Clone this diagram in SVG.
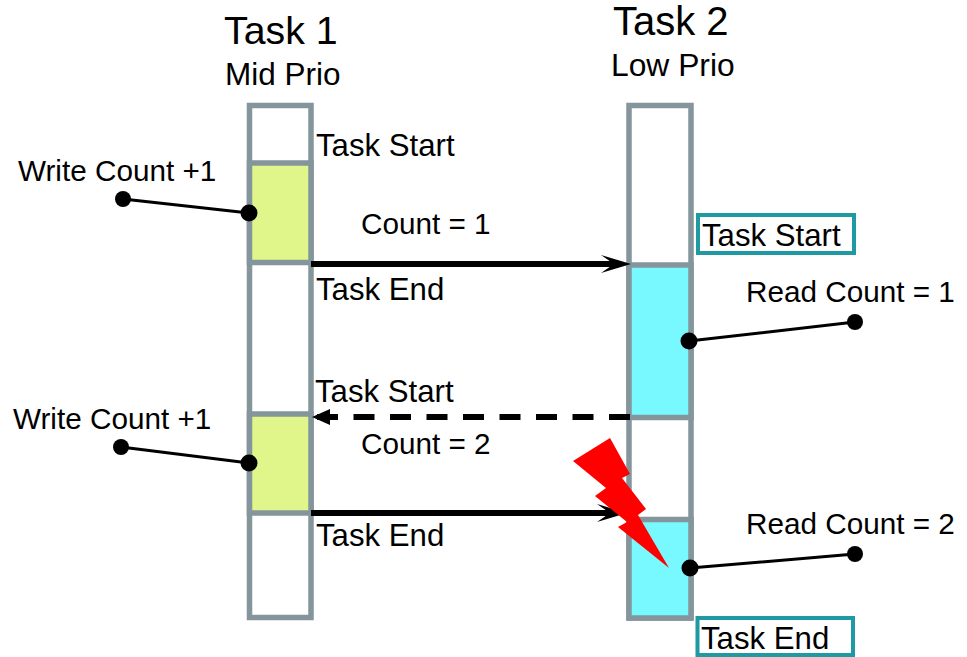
<svg xmlns="http://www.w3.org/2000/svg" width="967" height="657" viewBox="0 0 967 657">
<style>
text{font-family:"Liberation Sans",Arial,sans-serif;fill:#000;font-size:29.700px}
.big{font-size:39.300px}
.mid{font-size:31.500px}
.t{font-size:31.200px}
.box{fill:#fff;stroke:#85959c;stroke-width:5.500}
.y{fill:#e0f58a;stroke:#85959c;stroke-width:5.500}
.c{fill:#78f8ff;stroke:#85959c;stroke-width:5.500}
.lead{stroke:#000;stroke-width:3;fill:none}
.flow{stroke:#000;stroke-width:6;fill:none}
.tag{fill:#fff;stroke:#1f9aa3;stroke-width:4}
</style>
<defs>
<marker id="a" markerUnits="userSpaceOnUse" markerWidth="34" markerHeight="22" refX="15" refY="11" orient="auto"><path d="M1 2 L31 11 L1 20 L14 11 Z" fill="#000"/></marker>
<marker id="b" markerUnits="userSpaceOnUse" markerWidth="22" markerHeight="22" refX="20" refY="11" orient="auto"><path d="M2 3 L20 11 L2 19 Z" fill="#000"/></marker>
</defs>
<g id="task1">
<rect class="box" x="249.500" y="105.500" width="61.500" height="512"/>
<rect class="y" x="249.500" y="163" width="61.500" height="99.500"/>
<rect class="y" x="249.500" y="414" width="61.500" height="99"/>
<text class="big" x="224" y="44">Task 1</text>
<text class="mid" x="225" y="85">Mid Prio</text>
<text class="t" x="316" y="156">Task Start</text>
<text class="t" x="316" y="300">Task End</text>
<text class="t" x="315" y="402">Task Start</text>
<text class="t" x="316" y="546">Task End</text>
</g>
<g id="task2">
<rect class="box" x="629" y="105.500" width="62" height="512.500"/>
<rect class="c" x="629" y="265" width="62" height="152.500"/>
<rect class="c" x="629" y="519.500" width="62" height="98.500"/>
<text class="big" x="613" y="35" style="font-size:40px">Task 2</text>
<text class="mid" x="611" y="76" style="font-size:31.800px">Low Prio</text>
</g>
<g id="tag-start"><rect class="tag" x="698" y="215" width="156" height="38"/><text class="t" x="702" y="246">Task Start</text></g>
<g id="tag-end"><rect class="tag" x="697.500" y="618" width="155.500" height="37"/><text class="t" x="701" y="649">Task End</text></g>
<g id="connectors">
<path class="flow" d="M311 264H615" marker-end="url(#a)"/>
<path d="M630 417H312" stroke="#000" stroke-width="6" fill="none" stroke-dasharray="21 15.500" marker-end="url(#b)"/>
<path class="flow" d="M311 513H611" marker-end="url(#a)"/>
<path class="lead" d="M123 199L249 213M121 447L249 463M689 341L855 322M690 568L855 554"/>
<g fill="#000"><circle cx="123" cy="199" r="8"/><circle cx="249" cy="213" r="8.500"/><circle cx="121" cy="447" r="8"/><circle cx="249" cy="463" r="8.500"/><circle cx="689" cy="341" r="8.500"/><circle cx="855" cy="322" r="8"/><circle cx="690" cy="568" r="8.500"/><circle cx="855" cy="554" r="8"/></g>
</g>
<g id="labels">
<text x="18" y="181">Write Count +1</text>
<text x="13" y="429">Write Count +1</text>
<text x="361" y="234">Count = 1</text>
<text x="361" y="454">Count = 2</text>
<text x="746" y="302">Read Count = 1</text>
<text x="746" y="534">Read Count = 2</text>
</g>
<g id="bolt"><polygon points="610,438 630,474 622,478 646,509 638,515 669,568 618,527 627,522 595,496 606,488 573,461" fill="#ff0000"/></g>
</svg>
